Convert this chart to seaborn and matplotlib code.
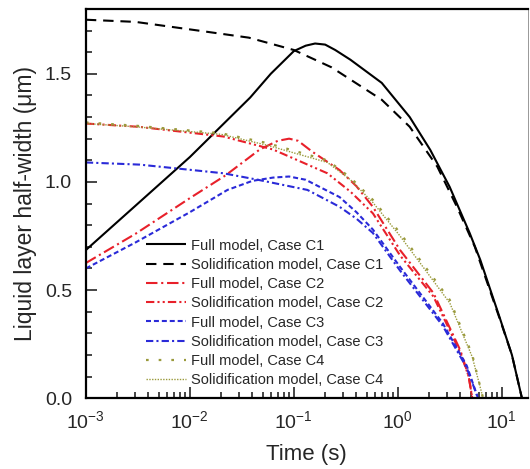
import numpy as np
import pandas as pd
import matplotlib
matplotlib.use("Agg")
import matplotlib.pyplot as plt
import seaborn as sns
from matplotlib.ticker import MultipleLocator, LogLocator, NullFormatter, FormatStrFormatter

# ---- data (time in s, half-width in um) ----
t_c1_full = [0.001, 0.003, 0.01, 0.038, 0.06, 0.1, 0.13, 0.16, 0.2, 0.25, 0.35, 0.7, 1.3, 2.05, 3.15, 4.9, 6.2, 9.5, 12.5, 15.6]
w_c1_full = [0.685, 0.89, 1.115, 1.39, 1.50, 1.605, 1.63, 1.64, 1.635, 1.61, 1.565, 1.458, 1.30, 1.148, 0.977, 0.764, 0.64, 0.375, 0.2, 0.0]

t_c1_sol = [0.001, 0.003, 0.012, 0.037, 0.1, 0.23, 0.7, 1.3, 2.4, 3.7, 5.5, 9.5, 12.5, 15.6]
w_c1_sol = [1.75, 1.74, 1.70, 1.667, 1.61, 1.53, 1.38, 1.255, 1.07, 0.885, 0.70, 0.37, 0.2, 0.0]

t_c2_full = [0.001, 0.003, 0.01, 0.022, 0.047, 0.07, 0.09, 0.11, 0.15, 0.275, 0.4, 0.575, 1.05, 2.2, 4.0, 4.8, 5.2]
w_c2_full = [0.625, 0.76, 0.925, 1.03, 1.15, 1.19, 1.20, 1.19, 1.14, 1.055, 0.98, 0.885, 0.685, 0.486, 0.22, 0.1, 0.0]

t_c2_sol = [0.001, 0.0032, 0.021, 0.063, 0.21, 0.35, 0.575, 1.05, 2.2, 4.0, 4.8, 5.2]
w_c2_sol = [1.27, 1.255, 1.21, 1.15, 1.04, 0.955, 0.855, 0.66, 0.47, 0.21, 0.1, 0.0]

t_c3_full = [0.001, 0.003, 0.01, 0.023, 0.04, 0.063, 0.09, 0.13, 0.275, 0.4, 0.575, 1.05, 2.7, 4.6, 5.9]
w_c3_full = [0.60, 0.72, 0.86, 0.963, 1.005, 1.02, 1.025, 1.01, 0.93, 0.86, 0.78, 0.607, 0.347, 0.15, 0.0]

t_c3_sol = [0.001, 0.0033, 0.021, 0.045, 0.135, 0.275, 0.4, 0.575, 1.05, 2.7, 4.6, 5.9]
w_c3_sol = [1.09, 1.08, 1.04, 1.01, 0.963, 0.885, 0.83, 0.764, 0.59, 0.335, 0.14, 0.0]

t_c4_full = [0.001, 0.003, 0.02, 0.055, 0.21, 0.35, 0.575, 1.05, 3.16, 5.2, 6.6]
w_c4_full = [1.275, 1.26, 1.225, 1.18, 1.10, 1.02, 0.917, 0.764, 0.454, 0.2, 0.0]

t_c4_sol = [0.001, 0.003, 0.02, 0.055, 0.21, 0.35, 0.575, 1.05, 3.16, 5.2, 6.6]
w_c4_sol = [1.27, 1.255, 1.22, 1.17, 1.09, 1.01, 0.905, 0.75, 0.44, 0.19, 0.0]

series = [
    ("Full model, Case C1", t_c1_full, w_c1_full, "black", (0, ()), 1.5),
    ("Solidification model, Case C1", t_c1_sol, w_c1_sol, "black", (0, (5, 3.3)), 1.5),
    ("Full model, Case C2", t_c2_full, w_c2_full, "#e8202a", (0, (5.5, 1.8, 1, 1.8)), 1.5),
    ("Solidification model, Case C2", t_c2_sol, w_c2_sol, "#e8202a", (0, (4, 1.5, 1, 1.5, 1, 1.5)), 1.5),
    ("Full model, Case C3", t_c3_full, w_c3_full, "#2a2ad8", (0, (2.4, 1.4)), 1.5),
    ("Solidification model, Case C3", t_c3_sol, w_c3_sol, "#2a2ad8", (0, (3.5, 1.5, 1, 1.5)), 1.5),
    ("Full model, Case C4", t_c4_full, w_c4_full, "#9a9a3c", (0, (1.2, 4.5)), 1.6),
    ("Solidification model, Case C4", t_c4_sol, w_c4_sol, "#9a9a3c", (0, (1, 1)), 1.0),
]

sns.set_theme(style="ticks")
plt.rcParams["font.family"] = ["Liberation Sans", "DejaVu Sans"]
plt.rcParams["mathtext.fontset"] = "custom"
plt.rcParams["mathtext.rm"] = "Liberation Sans"

fig = plt.figure(figsize=(5.30, 4.69), dpi=100)
ax = fig.add_axes([0.162, 0.151, 0.834, 0.830])

for label, t, w, color, ls, lw in series:
    sns.lineplot(x=t, y=w, ax=ax, color=color, linestyle=ls, linewidth=lw, label=label)

ax.set_xscale("log")
ax.set_xlim(1e-3, 17.8)
ax.set_ylim(0, 1.8)
ax.yaxis.set_major_locator(MultipleLocator(0.5))
ax.yaxis.set_minor_locator(MultipleLocator(0.1))
ax.yaxis.set_major_formatter(FormatStrFormatter("%.1f"))
ax.xaxis.set_major_locator(LogLocator(base=10))
ax.xaxis.set_minor_locator(LogLocator(base=10, subs=np.arange(2, 10)))
ax.xaxis.set_minor_formatter(NullFormatter())

ax.tick_params(which="both", direction="in", top=False, right=False, labelsize=14, width=1.2)
ax.tick_params(which="major", length=8)
ax.tick_params(axis="x", which="major", pad=9)
ax.tick_params(axis="y", which="major", pad=10)
ax.tick_params(which="minor", length=4)
for sp in ax.spines.values():
    sp.set_linewidth(1.6)
    sp.set_color("black")
ax.spines["right"].set_linewidth(0.6)
ax.spines["right"].set_color("#888888")

ax.set_xlabel("Time (s)", fontsize=16, labelpad=8)
ax.set_ylabel("Liquid layer half-width (\u03bcm)", fontsize=16.5, labelpad=6)

ax.legend(loc="upper left", bbox_to_anchor=(0.135, 0.41), frameon=False,
          fontsize=10.5, handlelength=2.8, handletextpad=0.3, labelspacing=0.36,
          borderpad=0, borderaxespad=0)

fig.savefig("out.png", dpi=100)
